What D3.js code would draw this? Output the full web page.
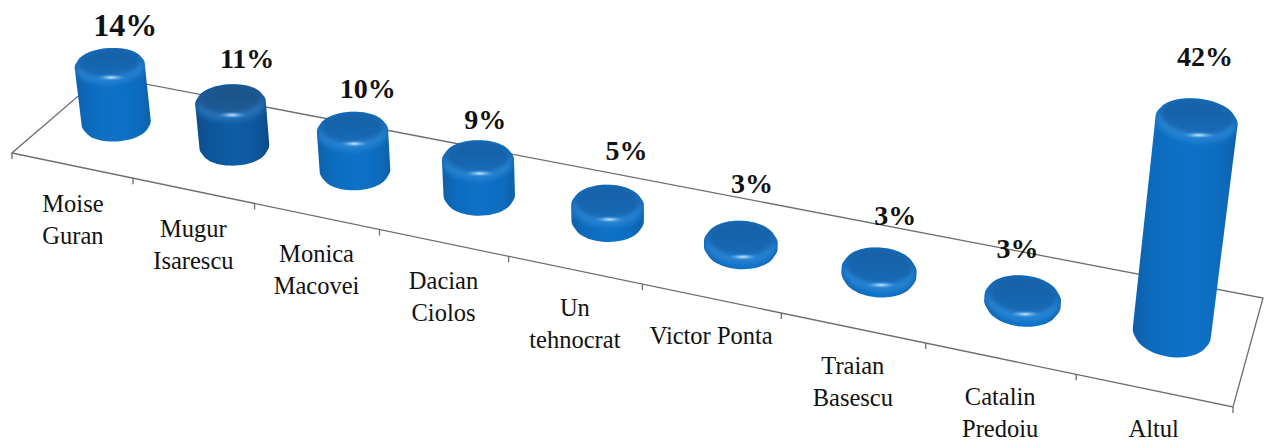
<!DOCTYPE html>
<html>
<head>
<meta charset="utf-8">
<script src="https://cdn.jsdelivr.net/npm/d3@7"></script>
<style>
	html, body { margin: 0; padding: 0; background: #fff; }
	text { font-family: "Liberation Serif", serif; fill: #111; }
</style>
</head>
<body>
<div id="viz"></div>
<script>
	var categories = [
		["Moise", "Guran"], ["Mugur", "Isarescu"], ["Monica", "Macovei"],
		["Dacian", "Ciolos"], ["Un", "tehnocrat"], ["Victor Ponta"],
		["Traian", "Basescu"], ["Catalin", "Predoiu"], ["Altul"]
	];
	var values = [14, 11, 10, 9, 5, 3, 3, 3, 42];
	var barShades = ["blue", "navy", "blue", "blue", "blue", "blue", "blue", "blue", "blue"];

	// Hand placed labels in the original, offsets from the top of each bar
	var valueNudgeX = [16, 17, 15.5, 7.5, 19, 11, 16, -5.5, 8];
	var valueNudgeY = [-12, -16, -14, -11.5, -24.5, -28, -22, -17, -32];
	var valueSizes = [32, 28, 28, 28, 28, 28, 28, 28, 28];

	var SVG_WIDTH = 1268, SVG_HEIGHT = 448;
	var FLOOR = { fl: [12, 153], fr: [1233, 407], br: [1263, 298], bl: [102, 75.6] };
	var VANISH = [650, 4800];
	var RADIUS_V = 0.19, BEVEL = 0.7, BAR_DEPTH = 0.485;

	var uScale = d3.scalePow().exponent(0.974).domain([0, categories.length]).range([0, 1]);
	var hScale = d3.scalePow().exponent(0.95).domain([0.7, 42]).range([0, -0.0406]).clamp(true);
	var radiusScale = d3.scaleLinear().domain([0, 1]).range([0.0302, 0.0272]);

	/**************
	 * PROJECTION *
	 **************/

	var H = (function(){
		var dx1 = FLOOR.fr[0] - FLOOR.br[0], dy1 = FLOOR.fr[1] - FLOOR.br[1];
		var dx2 = FLOOR.bl[0] - FLOOR.br[0], dy2 = FLOOR.bl[1] - FLOOR.br[1];
		var sx = FLOOR.fl[0] - FLOOR.fr[0] + FLOOR.br[0] - FLOOR.bl[0];
		var sy = FLOOR.fl[1] - FLOOR.fr[1] + FLOOR.br[1] - FLOOR.bl[1];
		var den = dx1 * dy2 - dx2 * dy1;
		var g = (sx * dy2 - dx2 * sy) / den, h = (dx1 * sy - sx * dy1) / den;
		return {
			a: FLOOR.fr[0] - FLOOR.fl[0] + g * FLOOR.fr[0],
			b: FLOOR.bl[0] - FLOOR.fl[0] + h * FLOOR.bl[0],
			c: FLOOR.fl[0],
			d: FLOOR.fr[1] - FLOOR.fl[1] + g * FLOOR.fr[1],
			e: FLOOR.bl[1] - FLOOR.fl[1] + h * FLOOR.bl[1],
			f: FLOOR.fl[1],
			g: g, h: h
		};
	})();

	// u along the categories, v into the depth, value straight up
	function project(u, v, value){
		var t = hScale(value);
		var w = H.g * u + H.h * v + 1 + t;
		return [
			(H.a * u + H.b * v + H.c + t * VANISH[0]) / w,
			(H.d * u + H.e * v + H.f + t * VANISH[1]) / w
		];
	}

	function ring(i, value, shrink){
		var u = uScale(i + 0.5), ru = radiusScale(u);
		return d3.range(64).map(function(k){
			var th = k / 64 * 2 * Math.PI;
			return project(u + Math.cos(th) * ru * shrink, BAR_DEPTH + Math.sin(th) * RADIUS_V * shrink, value);
		});
	}

	var line = d3.line().curve(d3.curveLinearClosed);

	/*****************
	 * INITIAL SETUP *
	 *****************/

	var svg = d3.select("#viz").append("svg")
		.attr("width", SVG_WIDTH)
		.attr("height", SVG_HEIGHT)
		.style("display", "block");
	var defs = svg.append("defs");

	var palette = {
		blue: { edge: "#0c60aa", side: "#0e6bbd", mid: "#1072c9", capA: "#1860a5", capB: "#1769b4", glow: "#2c86d6" },
		navy: { edge: "#0b4c89", side: "#0c569a", mid: "#0e5ca5", capA: "#1c5285", capB: "#1a5c98", glow: "#2976bd" }
	};

	Object.keys(palette).forEach(function(name){
		var p = palette[name];
		var side = defs.append("linearGradient").attr("id", "side-" + name);
		[[0, p.edge], [0.2, p.side], [0.55, p.mid], [0.85, p.side], [1, p.edge]].forEach(function(s){
			side.append("stop").attr("offset", s[0]).attr("stop-color", s[1]);
		});
		var cap = defs.append("linearGradient").attr("id", "cap-" + name)
			.attr("x1", 0).attr("y1", 0).attr("x2", 0).attr("y2", 1);
		[[0, p.capA], [1, p.capB]].forEach(function(s){
			cap.append("stop").attr("offset", s[0]).attr("stop-color", s[1]);
		});
	});

	var shine = defs.append("radialGradient").attr("id", "shine");
	shine.append("stop").attr("offset", 0).attr("stop-color", "#dff1ff").attr("stop-opacity", 0.95);
	shine.append("stop").attr("offset", 0.45).attr("stop-color", "#8cc8f5").attr("stop-opacity", 0.55);
	shine.append("stop").attr("offset", 1).attr("stop-color", "#2f8bdc").attr("stop-opacity", 0);

	[["soft", 0.6], ["blur1", 2.4], ["blur2", 3]].forEach(function(f){
		defs.append("filter").attr("id", f[0])
			.attr("x", "-20%").attr("y", "-20%").attr("width", "140%").attr("height", "140%")
			.append("feGaussianBlur").attr("stdDeviation", f[1]);
	});

	/*********
	 * FLOOR *
	 *********/

	var axisColor = "#6e6e6e";
	svg.append("path")
		.attr("d", line([project(0, 0, 0), project(1, 0, 0), project(1, 1, 0), project(0, 1, 0)]))
		.attr("fill", "none")
		.attr("stroke", axisColor)
		.attr("stroke-width", 1.3);

	svg.selectAll("line.tick")
		.data(d3.range(categories.length + 1))
		.enter()
		.append("line")
		.attr("class", "tick")
		.attr("x1", function(d){ return project(uScale(d), 0, 0)[0]; })
		.attr("x2", function(d){ return project(uScale(d), 0, 0)[0]; })
		.attr("y1", function(d){ return project(uScale(d), 0, 0)[1]; })
		.attr("y2", function(d){ return project(uScale(d), 0, 0)[1] + 6; })
		.attr("stroke", axisColor)
		.attr("stroke-width", 1.3);

	/*******************
	 * CATEGORY LABELS *
	 *******************/

	var names = svg.selectAll("text.name")
		.data(categories)
		.enter()
		.append("text")
		.attr("class", "name")
		.attr("text-anchor", "middle")
		.attr("font-size", 24.5)
		.attr("transform", function(d, i){
			var p = project(uScale(i + 0.5), 0, 0);
			return "translate(" + p[0] + "," + (p[1] + 46) + ")";
		});
	names.selectAll("tspan")
		.data(function(d){ return d; })
		.enter()
		.append("tspan")
		.attr("x", 0)
		.attr("y", function(d, i){ return i * 32; })
		.text(function(d){ return d; });

	/********
	 * BARS *
	 ********/

	var bars = svg.selectAll("g.bar")
		.data(values)
		.enter()
		.append("g")
		.attr("class", "bar");

	bars.each(function(value, i){
		var g = d3.select(this), p = palette[barShades[i]];
		var hull = d3.polygonHull(
			ring(i, 0, 0.93)
				.concat(ring(i, 0.7 + BEVEL, 1))
				.concat(ring(i, value - BEVEL, 1))
				.concat(ring(i, value, 0.93))
		);

		defs.append("clipPath").attr("id", "clip-" + i)
			.append("path").attr("d", line(hull));

		g.append("path")
			.attr("d", line(hull))
			.attr("fill", "url(#side-" + barShades[i] + ")")
			.attr("filter", "url(#soft)");

		var inner = g.append("g").attr("clip-path", "url(#clip-" + i + ")");

		// light band on the rounded front rim
		inner.append("path")
			.attr("d", line(ring(i, value - BEVEL * 1.6, 0.97)))
			.attr("fill", p.glow)
			.attr("filter", "url(#blur2)");

		var cap = ring(i, value, 0.9);
		inner.append("path")
			.attr("d", line(cap))
			.attr("fill", "url(#cap-" + barShades[i] + ")")
			.attr("filter", "url(#blur1)");

		var xs = d3.extent(cap, function(d){ return d[0]; });
		var front = d3.greatest(cap, function(d){ return d[1]; });
		inner.append("ellipse")
			.attr("cx", (xs[0] + xs[1]) / 2 + 2)
			.attr("cy", front[1] + 1)
			.attr("rx", (xs[1] - xs[0]) * 0.24)
			.attr("ry", 3.5)
			.attr("fill", "url(#shine)");
	});

	/****************
	 * VALUE LABELS *
	 ****************/

	svg.selectAll("text.value")
		.data(values)
		.enter()
		.append("text")
		.attr("class", "value")
		.attr("text-anchor", "middle")
		.attr("font-weight", "bold")
		.attr("font-size", function(d, i){ return valueSizes[i]; })
		.attr("x", function(d, i){
			return d3.mean(d3.extent(ring(i, d, 0.93), function(p){ return p[0]; })) + valueNudgeX[i];
		})
		.attr("y", function(d, i){
			return d3.min(ring(i, d, 0.93), function(p){ return p[1]; }) + valueNudgeY[i];
		})
		.text(function(d){ return d + "%"; });
</script>
</body>
</html>
